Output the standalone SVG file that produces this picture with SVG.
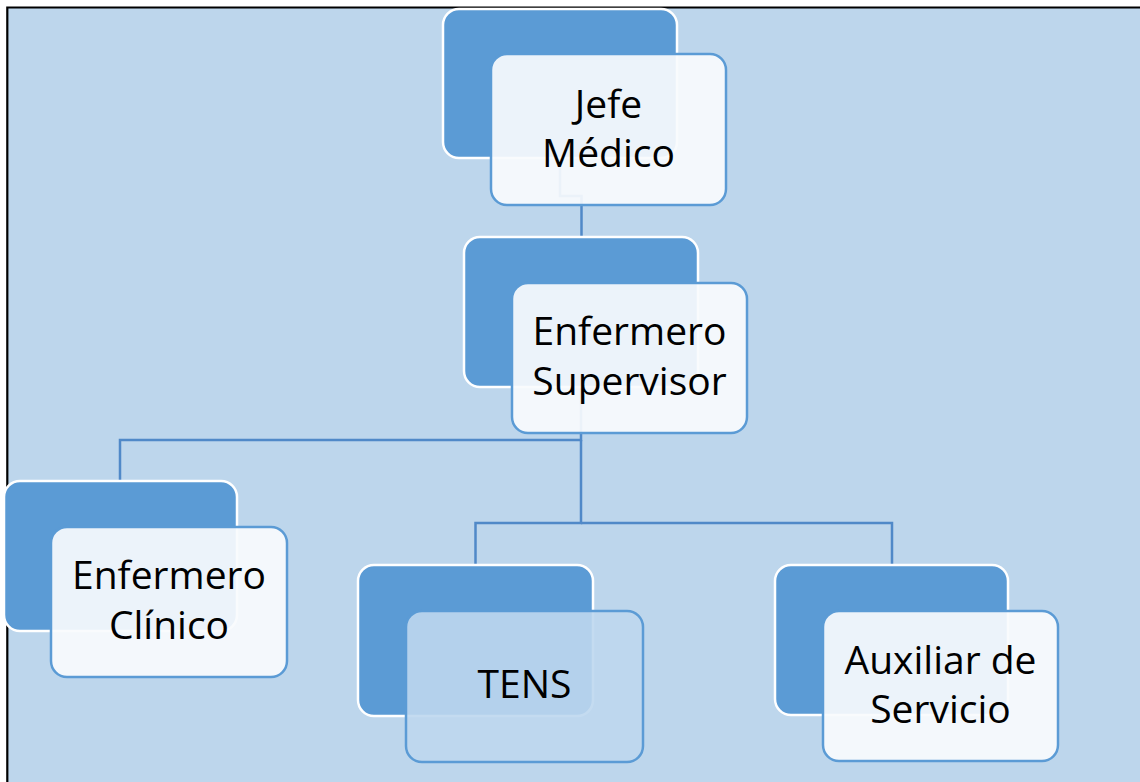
<svg xmlns="http://www.w3.org/2000/svg" width="1140" height="782" viewBox="0 0 1140 782">
<style>
.back{fill:#5b9bd5;stroke:#ffffff;stroke-width:2.5}
.front{fill:#f9fbfd;fill-opacity:0.92;stroke:#5b9bd5;stroke-width:2.5}
.front2{fill:#bed7ee;fill-opacity:0.9;stroke:#5b9bd5;stroke-width:2.5}
.lbl{font-family:"Open Sans","Noto Sans","Liberation Sans",sans-serif;font-size:39px;fill:#000000;text-anchor:middle}
.conn{fill:none;stroke:#5089c8;stroke-width:2.5}
</style>
<rect x="0" y="0" width="1140" height="782" fill="#ffffff"/>
<rect x="7" y="7" width="1133" height="775" fill="#bdd6ec"/>
<path d="M7.3 782 V7.5 H1140" fill="none" stroke="#000000" stroke-width="2.2"/>
<g id="connectors">
<path class="conn" d="M560 158 V196 H581.5 V236"/>
<path class="conn" d="M581 387 V440 H120 V480"/>
<path class="conn" d="M581 440 V523 H475.5 V564"/>
<path class="conn" d="M581 523 H892 V564"/>
</g>
<g id="jefe-medico">
<rect class="back" x="443" y="9" width="234" height="149" rx="16"/>
<rect class="front" x="491" y="54" width="235" height="151" rx="16"/>
<text class="lbl" x="608.5" y="118">Jefe</text>
<text class="lbl" x="608.5" y="167">Médico</text>
</g>
<g id="enfermero-supervisor">
<rect class="back" x="464" y="237" width="234" height="150" rx="16"/>
<rect class="front" x="512" y="283" width="235" height="150" rx="16"/>
<text class="lbl" x="629.5" y="345">Enfermero</text>
<text class="lbl" x="629.5" y="395">Supervisor</text>
</g>
<g id="enfermero-clinico">
<rect class="back" x="4" y="481" width="233" height="150" rx="16"/>
<rect class="front" x="51" y="527" width="236" height="150" rx="16"/>
<text class="lbl" x="169" y="589">Enfermero</text>
<text class="lbl" x="169" y="639">Clínico</text>
</g>
<g id="tens">
<rect class="back" x="358" y="565" width="235" height="151" rx="16"/>
<rect class="front2" x="406" y="611" width="237" height="151" rx="16"/>
<text class="lbl" x="524.5" y="698">TENS</text>
</g>
<g id="auxiliar-servicio">
<rect class="back" x="775" y="565" width="233" height="150" rx="16"/>
<rect class="front" x="823" y="611" width="235" height="150" rx="16"/>
<text class="lbl" x="940.5" y="674">Auxiliar de</text>
<text class="lbl" x="940.5" y="723">Servicio</text>
</g>
</svg>
